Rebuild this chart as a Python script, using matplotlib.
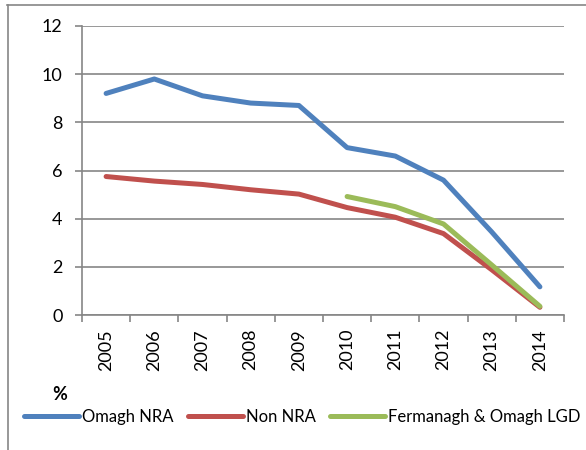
import matplotlib
matplotlib.use("Agg")
import matplotlib.pyplot as plt
from matplotlib.lines import Line2D

plt.rcParams['font.family'] = ['Lato', 'DejaVu Sans']

years = ["2005", "2006", "2007", "2008", "2009", "2010", "2011", "2012", "2013", "2014"]
omagh_nra = [9.2, 9.8, 9.1, 8.8, 8.7, 6.95, 6.6, 5.6, 3.45, 1.17]
non_nra = [5.75, 5.56, 5.42, 5.2, 5.02, 4.46, 4.06, 3.38, 1.88, 0.32]
lgd_years = ["2010", "2011", "2012", "2013", "2014"]
lgd = [4.92, 4.5, 3.78, 2.08, 0.36]
y_ticks = [0, 2, 4, 6, 8, 10, 12]

series_names = ["Omagh NRA", "Non NRA", "Fermanagh & Omagh LGD"]
colors = ["#4F81BD", "#C0504D", "#9BBB59"]
grid_col = "#868686"

fig = plt.figure(figsize=(5.86, 4.5), dpi=100)
ax = fig.add_axes([82/586, 1 - 315/450, (564-82)/586, (315-26)/450])

x = list(range(len(years)))
xl = [years.index(y) for y in lgd_years]
lw = 3.6
ax.plot(x, omagh_nra, color=colors[0], lw=lw, solid_capstyle='round', solid_joinstyle='round', zorder=3)
ax.plot(x, non_nra, color=colors[1], lw=lw, solid_capstyle='round', solid_joinstyle='round', zorder=3)
ax.plot(xl, lgd, color=colors[2], lw=lw, solid_capstyle='round', solid_joinstyle='round', zorder=4)

ax.set_xlim(-0.5, len(years) - 0.5)
ax.set_ylim(0, 12)
ax.set_yticks(y_ticks)
ax.set_yticklabels([str(v) for v in y_ticks], fontsize=13)
ax.yaxis.grid(True, color=grid_col, lw=1.2)
ax.set_axisbelow(True)

ax.set_xticks([i - 0.5 for i in range(len(years) + 1)])
ax.set_xticklabels([])
ax.set_xticks(x, minor=True)
ax.set_xticklabels(years, minor=True, rotation=90, fontsize=13)
ax.tick_params(axis='x', which='major', length=5, width=1.2, color=grid_col, direction='out')
ax.tick_params(axis='x', which='minor', length=0, pad=10)
ax.tick_params(axis='y', length=5, width=1.2, color=grid_col, pad=9)

for s in ['top', 'right']:
    ax.spines[s].set_visible(False)
for s in ['left', 'bottom']:
    ax.spines[s].set_color(grid_col)
    ax.spines[s].set_linewidth(1.2)

fig.text(52/586, 1 - 395/450, "%", fontsize=13, fontweight='bold', va='center', ha='left')

handles = [Line2D([0], [0], color=c, lw=lw, solid_capstyle='round') for c in colors]
fig.legend(handles, series_names, loc='center left', bbox_to_anchor=(24/586, 1 - 417/450),
           ncol=3, frameon=False, fontsize=12, handlelength=3.3, handletextpad=0.15,
           columnspacing=0.9, borderaxespad=0, borderpad=0)

# outer frame (partially cropped chart border)
fig.add_artist(Line2D([7/586, 1.0], [1 - 4.5/450, 1 - 4.5/450], transform=fig.transFigure, color=grid_col, lw=1.2))
fig.add_artist(Line2D([7.5/586, 7.5/586], [1 - 4.5/450, 0], transform=fig.transFigure, color=grid_col, lw=1.2))

fig.savefig("out.png", dpi=100)
